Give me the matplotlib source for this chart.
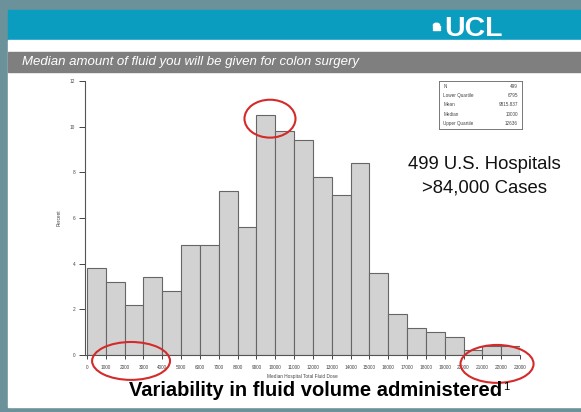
import matplotlib
matplotlib.use("Agg")
import matplotlib.pyplot as plt
from matplotlib.patches import Rectangle, Ellipse, Wedge

# histogram: percent of hospitals per 1000 ml bin of median total fluid dose
bin_start = list(range(0, 23000, 1000))
percent = [3.8, 3.2, 2.2, 3.4, 2.8, 4.8, 4.8, 7.2, 5.6, 10.5, 9.8, 9.4,
           7.8, 7.0, 8.4, 3.6, 1.8, 1.2, 1.0, 0.8, 0.2, 0.4, 0.4]
x_ticks = list(range(0, 24000, 1000))
y_ticks = [0, 2, 4, 6, 8, 10, 12]

stat_names = ["N", "Lower Quartile", "Mean", "Median", "Upper Quartile"]
stat_values = ["499", "6795", "9815.837", "10000", "12636"]

banner_text = "Median amount of fluid you will be given for colon surgery"
caption = "Variability in fluid volume administered"
note_lines = ["499 U.S. Hospitals", ">84,000 Cases"]

W, H = 581, 412
plt.rcParams['font.family'] = ['Liberation Sans', 'DejaVu Sans']

fig = plt.figure(figsize=(W / 100, H / 100), dpi=100)
fig.patch.set_facecolor("#6b929a")


def px_rect(x0, y0, x1, y1, color, z=-1):
    # rectangle given in pixels from the top-left corner
    fig.patches.append(Rectangle((x0 / W, 1 - y1 / H), (x1 - x0) / W, (y1 - y0) / H,
                                 transform=fig.transFigure, color=color, zorder=z))


px_rect(8, 10, W, 40, "#0a9dc0")     # UCL band
px_rect(8, 40, W, 407, "white")      # slide panel
px_rect(8, 52, W, 72, "#7f7f7f")     # grey banner

fig.text(22 / W, 1 - 62 / H, banner_text, color="white", fontsize=9.5,
         style="italic", va="center", ha="left")

# UCL logo
fig.text(503 / W, 1 - 29.5 / H, "UCL", color="white", fontsize=20.5,
         fontweight="bold", ha="right", va="center")
fig.patches.append(Wedge((436.5 / W, 1 - 25.5 / H), 3.2 / W, 0, 180,
                         transform=fig.transFigure, color="white", zorder=2))
px_rect(433, 26.5, 440, 27.8, "white", 2)
px_rect(433, 29, 440, 30.3, "white", 2)

# main histogram
ax = fig.add_axes([85 / W, 1 - 355 / H, (520 - 85) / W, (355 - 81) / H])
ax.bar(bin_start, percent, width=1000, align="edge", color="#d2d2d2",
       edgecolor="#666666", linewidth=0.8)
ax.set_xlim(-106, 23000)
ax.set_ylim(0, 12)
ax.set_xticks(x_ticks)
ax.set_xticklabels([str(v) for v in x_ticks])
ax.set_yticks(y_ticks)
ax.tick_params(axis="both", labelsize=3.4, colors="#444444", width=0.7,
               direction="out")
ax.tick_params(axis="x", length=3, pad=4)
ax.tick_params(axis="y", length=4, pad=3)
for s in ["top", "right"]:
    ax.spines[s].set_visible(False)
for s in ["left", "bottom"]:
    ax.spines[s].set_color("#555555")
    ax.spines[s].set_linewidth(0.8)
ax.set_xlabel("Median Hospital Total Fluid Dose", fontsize=3.4, color="#444444",
              labelpad=3)
ax.set_ylabel("Percent", fontsize=3.4, color="#444444", labelpad=6)
ax.set_facecolor("none")

# red circles
red = "#d42a2a"
for cx, cy, w, h in [(9720, 10.35, 2710, 1.66), (2340, -0.26, 4140, 1.66),
                     (21780, -0.39, 3880, 1.66)]:
    ax.add_patch(Ellipse((cx, cy), w, h, fill=False, edgecolor=red,
                         linewidth=1.5, clip_on=False, zorder=5))

# statistics box
bx = fig.add_axes([439 / W, 1 - 129 / H, (522 - 439) / W, (129 - 81) / H])
bx.set_xticks([])
bx.set_yticks([])
for s in bx.spines.values():
    s.set_color("#777777")
    s.set_linewidth(0.7)
for i, (n, v) in enumerate(zip(stat_names, stat_values)):
    yy = 0.88 - i * 0.19
    bx.text(0.05, yy, n, fontsize=3.3, color="#444444", va="center")
    bx.text(0.95, yy, v, fontsize=3.3, color="#444444", va="center", ha="right")

fig.text(484 / W, 1 - 165 / H, note_lines[0], fontsize=13.3, ha="center",
         va="center", color="#111111")
fig.text(484 / W, 1 - 188 / H, note_lines[1], fontsize=13.3, ha="center",
         va="center", color="#111111")

cap = fig.text(316 / W, 1 - 391 / H, caption, fontsize=14.5, fontweight="bold",
               ha="center", va="center", color="black")
fig.canvas.draw()
bb = cap.get_window_extent(fig.canvas.get_renderer())
fig.text((bb.x1 + 1) / W, (bb.y1 - 1) / H, "1", fontsize=8, ha="left", va="top")

fig.savefig("out.png", dpi=100, facecolor=fig.get_facecolor())
